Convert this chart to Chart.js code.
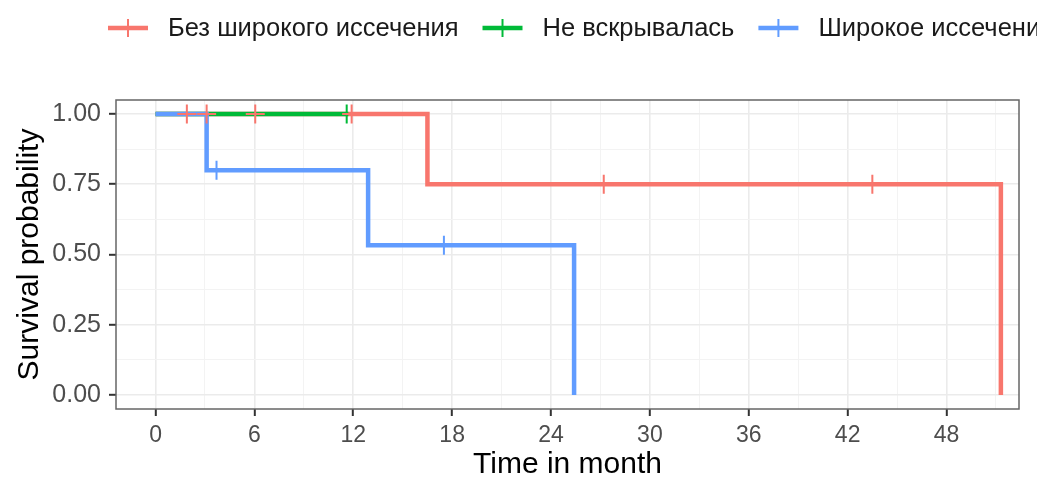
<!DOCTYPE html>
<html>
<head>
<meta charset="utf-8">
<script src="https://cdn.jsdelivr.net/npm/chart.js@4.4.0/dist/chart.umd.min.js"></script>
<style>
  body { margin: 0; background: #ffffff; }
  #wrap { width: 1037px; height: 477px; }
</style>
</head>
<body>
<div id="wrap"><canvas id="km" width="1037" height="477"></canvas></div>
<script>
// group names and colours (ggplot defaults)
const groupNames = ['Без широкого иссечения', 'Не вскрывалась', 'Широкое иссечение'];
const groupColors = ['#F8766D', '#00BA38', '#619CFF'];

// step curves: time of change and survival after it
const redTimes = [0, 16.5, 51.3];
const redSurv = [1, 0.75, 0];
const greenTimes = [0, 11.7];
const greenSurv = [1, 1];
const blueTimes = [0, 3.1, 12.9, 25.4];
const blueSurv = [1, 0.8, 0.533, 0];

// censored observations
const redCensorTimes = [1.9, 3.1, 6.05, 11.9, 27.2, 43.5];
const redCensorSurv = [1, 1, 1, 1, 0.75, 0.75];
const greenCensorTimes = [11.6];
const greenCensorSurv = [1];
const blueCensorTimes = [3.7, 17.5];
const blueCensorSurv = [0.8, 0.533];

// axis ticks
const xMajor = [0, 6, 12, 18, 24, 30, 36, 42, 48];
const xMinor = [3, 9, 15, 21, 27, 33, 39, 45, 51];
const yMajor = [0, 0.25, 0.5, 0.75, 1];
const yMinor = [0.125, 0.375, 0.625, 0.875];

const toPts = (xs, ys) => xs.map((x, i) => ({ x: x, y: ys[i] }));

function stepSet(label, xs, ys, color) {
  return {
    label: label,
    data: toPts(xs, ys),
    showLine: true,
    borderColor: color,
    backgroundColor: color,
    borderWidth: 4.5,
    stepped: 'before',
    pointRadius: 0,
    fill: false,
  };
}

function censorSet(label, xs, ys, color) {
  return {
    label: label,
    data: toPts(xs, ys),
    showLine: false,
    borderColor: color,
    backgroundColor: color,
    pointStyle: 'cross',
    pointRadius: 9.5,
    pointBorderWidth: 2,
  };
}

const isMajor = (list, v) => list.some(m => Math.abs(m - v) < 1e-9);

// ggplot-like legend across the top (clips at the right edge like the original)
const topLegend = {
  id: 'topLegend',
  afterDraw(chart) {
    const ctx = chart.ctx;
    ctx.save();
    ctx.font = '25.5px "Liberation Sans", Arial, sans-serif';
    ctx.textBaseline = 'middle';
    let x = 108;
    const y = 28;
    groupNames.forEach((name, i) => {
      ctx.strokeStyle = groupColors[i];
      ctx.lineWidth = 4.5;
      ctx.beginPath();
      ctx.moveTo(x, y);
      ctx.lineTo(x + 40, y);
      ctx.stroke();
      ctx.lineWidth = 2;
      ctx.beginPath();
      ctx.moveTo(x + 20, y - 9);
      ctx.lineTo(x + 20, y + 9);
      ctx.stroke();
      ctx.fillStyle = '#1a1a1a';
      ctx.fillText(name, x + 60, y + 1);
      x += 60 + ctx.measureText(name).width + 24;
    });
    ctx.restore();
  }
};

// panel border
const panelBox = {
  id: 'panelBox',
  afterDraw(chart) {
    const a = chart.chartArea;
    const ctx = chart.ctx;
    ctx.save();
    ctx.strokeStyle = '#666666';
    ctx.lineWidth = 1.5;
    ctx.strokeRect(a.left, a.top, a.right - a.left, a.bottom - a.top);
    ctx.restore();
  }
};

new Chart(document.getElementById('km').getContext('2d'), {
  type: 'scatter',
  data: {
    datasets: [
      censorSet('blue censor', blueCensorTimes, blueCensorSurv, groupColors[2]),
      censorSet('red censor', redCensorTimes, redCensorSurv, groupColors[0]),
      censorSet('green censor', greenCensorTimes, greenCensorSurv, groupColors[1]),
      stepSet(groupNames[2], blueTimes, blueSurv, groupColors[2]),
      stepSet(groupNames[1], greenTimes, greenSurv, groupColors[1]),
      stepSet(groupNames[0], redTimes, redSurv, groupColors[0]),
    ]
  },
  options: {
    responsive: false,
    animation: false,
    layout: { padding: { top: 100, right: 18, bottom: 0, left: 0 } },
    plugins: {
      legend: { display: false },
      tooltip: { enabled: false },
    },
    scales: {
      x: {
        type: 'linear',
        min: -2.4,
        max: 52.4,
        afterBuildTicks: (scale) => {
          scale.ticks = xMajor.concat(xMinor).sort((a, b) => a - b).map(v => ({ value: v }));
        },
        afterFit: (scale) => { scale.height = 68; },
        ticks: {
          autoSkip: false,
          maxRotation: 0,
          padding: 6,
          color: '#4D4D4D',
          font: { family: '"Liberation Sans", Arial, sans-serif', size: 23 },
          callback: (v) => isMajor(xMajor, v) ? String(v) : '',
        },
        grid: {
          color: (c) => isMajor(xMajor, c.tick.value) ? '#EBEBEB' : '#F3F3F3',
          lineWidth: (c) => isMajor(xMajor, c.tick.value) ? 1.6 : 1,
          tickColor: (c) => isMajor(xMajor, c.tick.value) ? '#333333' : 'rgba(0,0,0,0)',
          tickWidth: 2,
          tickLength: 7,
        },
        border: { display: false },
        title: {
          display: true,
          text: 'Time in month',
          color: '#000000',
          font: { family: '"Liberation Sans", Arial, sans-serif', size: 30, lineHeight: 0.8 },
          padding: 0,
        },
      },
      y: {
        type: 'linear',
        min: -0.05,
        max: 1.05,
        afterBuildTicks: (scale) => {
          scale.ticks = yMajor.concat(yMinor).sort((a, b) => a - b).map(v => ({ value: v }));
        },
        afterFit: (scale) => { scale.width = 116; },
        ticks: {
          autoSkip: false,
          padding: 8,
          color: '#4D4D4D',
          font: { family: '"Liberation Sans", Arial, sans-serif', size: 25 },
          callback: (v) => isMajor(yMajor, v) ? v.toFixed(2) : '',
        },
        grid: {
          color: (c) => isMajor(yMajor, c.tick.value) ? '#EBEBEB' : '#F3F3F3',
          lineWidth: (c) => isMajor(yMajor, c.tick.value) ? 1.6 : 1,
          tickColor: (c) => isMajor(yMajor, c.tick.value) ? '#333333' : 'rgba(0,0,0,0)',
          tickWidth: 2,
          tickLength: 7,
        },
        border: { display: false },
        title: {
          display: true,
          text: 'Survival probability',
          color: '#000000',
          font: { family: '"Liberation Sans", Arial, sans-serif', size: 30, lineHeight: 1 },
          padding: { top: 15, bottom: 0 },
        },
      },
    },
  },
  plugins: [topLegend, panelBox],
});
</script>
</body>
</html>
